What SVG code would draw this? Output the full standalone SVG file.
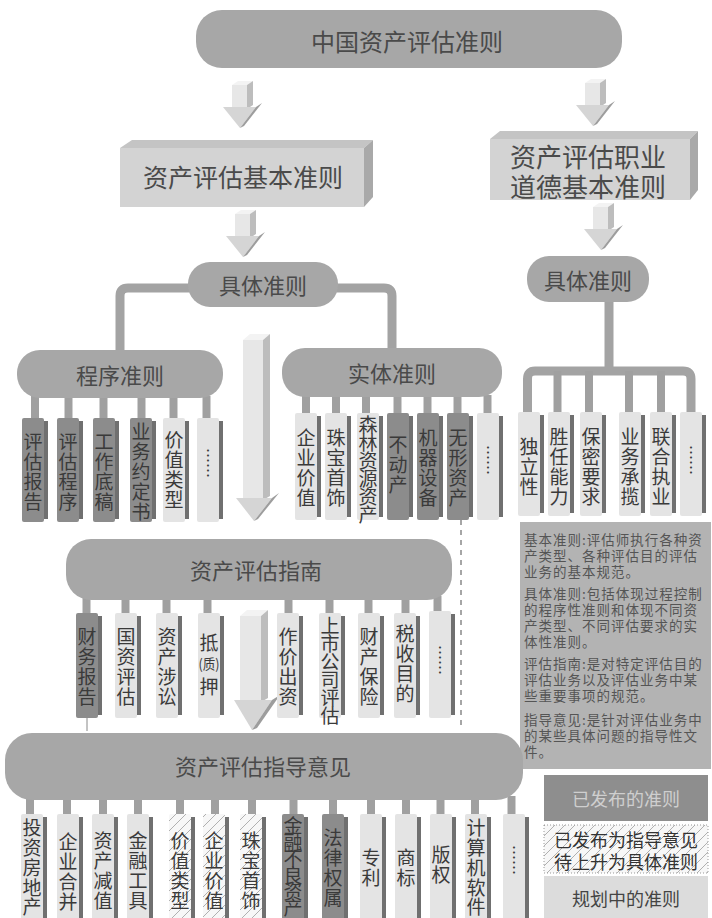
<svg xmlns="http://www.w3.org/2000/svg" xmlns:xlink="http://www.w3.org/1999/xlink" width="712" height="918" viewBox="0 0 712 918">
<style>
.pill{fill:#a7a7a7}
.bar{stroke:#a3a3a3;stroke-width:9;fill:none;stroke-linejoin:round}
.drop{stroke:#a0a0a0;stroke-width:8}
.t{font-family:"Noto Sans CJK SC","Noto Sans CJK JP",sans-serif}
.pt{fill:#4a4a4a;text-anchor:middle;dominant-baseline:central}
.dk{fill:#8c8c8c}
.lt{fill:#e4e4e4}
.ht{fill:url(#hatch)}
.sh{fill:#707070}
.it{font-size:19px;fill:#3a3a3a;text-anchor:middle;dominant-baseline:central}
.dots{font-size:15px;fill:#3a3a3a;text-anchor:middle;writing-mode:vertical-rl}
.ds{font-size:13.5px;fill:#555;letter-spacing:1px}
.af{fill:#e7e7e7}.at{fill:#f3f3f3}.as{fill:#bdbdbd}.ah{fill:#d5d5d5}.ahs{fill:#9d9d9d}
</style>
<defs>
<pattern id="hatch" patternUnits="userSpaceOnUse" width="10" height="10">
<rect width="10" height="10" fill="#f7f7f7"/>
<path d="M-1,1 L1,-1 M0,10 L10,0 M9,11 L11,9" stroke="#a8a8a8" stroke-width="0.9"/>
</pattern>
<g id="arr">
<path class="at" d="M10,4 L16,0 H31 L25,4 Z"/>
<path class="af" d="M10,4 H25 V28 H10 Z"/>
<path class="as" d="M25,4 L31,0 V24 L25,28 Z"/>
<path class="ah" d="M1,26 H34 L18,47 Z"/>
<path class="ahs" d="M34,26 L40,22 L22,45 L18,47 Z"/>
</g>
</defs>
<rect width="712" height="918" fill="#ffffff"/>

<g id="connectors">
<path class="bar" d="M190,288 H128 Q120,288 120,296 V352"/>
<path class="bar" d="M336,288 H384 Q392,288 392,296 V350"/>
<path class="bar" d="M609,300 V371"/>
<path class="bar" d="M527.5,413 V379 Q527.5,371 535,371 H683 Q691,371 691,379 V413"/>
<line class="drop" x1="557.5" y1="371" x2="557.5" y2="413"/>
<line class="drop" x1="589" y1="371" x2="589" y2="413"/>
<line class="drop" x1="629" y1="371" x2="629" y2="413"/>
<line class="drop" x1="661" y1="371" x2="661" y2="413"/>
<line class="drop" x1="35" y1="396" x2="35" y2="420"/>
<line class="drop" x1="68.5" y1="396" x2="68.5" y2="420"/>
<line class="drop" x1="103.5" y1="396" x2="103.5" y2="420"/>
<line class="drop" x1="141.5" y1="396" x2="141.5" y2="420"/>
<line class="drop" x1="173.5" y1="396" x2="173.5" y2="420"/>
<line class="drop" x1="206.5" y1="396" x2="206.5" y2="420"/>
<line class="drop" x1="306" y1="395" x2="306" y2="414"/>
<line class="drop" x1="336" y1="395" x2="336" y2="414"/>
<line class="drop" x1="366" y1="395" x2="366" y2="414"/>
<line class="drop" x1="397.5" y1="395" x2="397.5" y2="414"/>
<line class="drop" x1="427.5" y1="395" x2="427.5" y2="414"/>
<line class="drop" x1="457.5" y1="395" x2="457.5" y2="414"/>
<line class="drop" x1="487.5" y1="395" x2="487.5" y2="414"/>
<line class="drop" x1="86.5" y1="598" x2="86.5" y2="615"/>
<line class="drop" x1="125.5" y1="598" x2="125.5" y2="615"/>
<line class="drop" x1="166.5" y1="598" x2="166.5" y2="615"/>
<line class="drop" x1="207.5" y1="598" x2="207.5" y2="615"/>
<line class="drop" x1="288.5" y1="598" x2="288.5" y2="615"/>
<line class="drop" x1="329.5" y1="598" x2="329.5" y2="615"/>
<line class="drop" x1="368.5" y1="598" x2="368.5" y2="615"/>
<line class="drop" x1="405.5" y1="598" x2="405.5" y2="615"/>
<line class="drop" x1="437.5" y1="596" x2="437.5" y2="615"/>
<line class="drop" x1="30" y1="798" x2="30" y2="816"/>
<line class="drop" x1="67" y1="798" x2="67" y2="816"/>
<line class="drop" x1="103" y1="798" x2="103" y2="816"/>
<line class="drop" x1="138" y1="798" x2="138" y2="816"/>
<line class="drop" x1="180" y1="798" x2="180" y2="816"/>
<line class="drop" x1="215" y1="798" x2="215" y2="816"/>
<line class="drop" x1="252" y1="798" x2="252" y2="816"/>
<line class="drop" x1="293.5" y1="798" x2="293.5" y2="816"/>
<line class="drop" x1="333" y1="798" x2="333" y2="816"/>
<line class="drop" x1="371" y1="798" x2="371" y2="816"/>
<line class="drop" x1="406" y1="798" x2="406" y2="816"/>
<line class="drop" x1="440.5" y1="798" x2="440.5" y2="816"/>
<line class="drop" x1="475" y1="798" x2="475" y2="816"/>
<line class="drop" x1="511.5" y1="796" x2="511.5" y2="816"/>
<line x1="461" y1="520" x2="461" y2="730" stroke="#777" stroke-width="1.3" stroke-dasharray="5,5"/>
<line x1="87" y1="718" x2="87" y2="731" stroke="#888" stroke-width="1"/>
<use xlink:href="#arr" x="222" y="81"/>
<use xlink:href="#arr" x="575" y="79"/>
<use xlink:href="#arr" x="225" y="210"/>
<use xlink:href="#arr" x="583" y="203"/>
<g id="arrow-big">
<path class="at" d="M243,340 L250,334 H270 L263,340 Z"/>
<path class="af" d="M243,340 H263 V500 H243 Z"/>
<path class="as" d="M263,340 L270,334 V496 L263,500 Z"/>
<path class="ah" d="M236,498 H272 L254,521 Z"/>
<path class="ahs" d="M272,498 L279,493 L258,519 L254,521 Z"/>
</g>
<g id="arrow-guide">
<path class="at" d="M240,616 L247,610 H268 L261,616 Z"/>
<path class="af" d="M240,616 H261 V702 H240 Z"/>
<path class="as" d="M261,616 L268,610 V698 L261,702 Z"/>
<path class="ah" d="M234,700 H272 L252,730 Z"/>
<path class="ahs" d="M272,700 L280,695 L257,728 L252,730 Z"/>
</g>
</g>

<g id="n-root">
<rect class="pill" x="196" y="10" width="426" height="58" rx="26"/>
<text class="t pt" x="407" y="40" font-size="24">中国资产评估准则</text>
</g>

<g id="n-basic">
<path d="M120,148 L132,140 H373 L364,148 Z" fill="#c4c4c4"/>
<path d="M120,148 H364 V207 H120 Z" fill="#d3d3d3"/>
<path d="M364,148 L373,140 V197 L364,207 Z" fill="#a9a9a9"/>
<text class="t pt" x="243" y="176" font-size="25">资产评估基本准则</text>
</g>

<g id="n-ethics">
<path d="M490,139 L500,131 H698 L690,139 Z" fill="#c4c4c4"/>
<path d="M490,139 H690 V200 H490 Z" fill="#d3d3d3"/>
<path d="M690,139 L698,131 V190 L690,200 Z" fill="#a9a9a9"/>
<text class="t pt" x="588" y="155" font-size="26">资产评估职业</text>
<text class="t pt" x="588" y="185" font-size="26">道德基本准则</text>
</g>

<g id="n-specific-left">
<rect class="pill" x="188" y="262" width="150" height="45" rx="22"/>
<text class="t pt" x="263" y="284" font-size="22">具体准则</text>
</g>

<g id="n-specific-right">
<rect class="pill" x="527" y="256" width="122" height="46" rx="22"/>
<text class="t pt" x="588" y="279" font-size="22">具体准则</text>
</g>

<g id="n-procedure">
<rect class="pill" x="17" y="350" width="206" height="48" rx="23"/>
<text class="t pt" x="120" y="374" font-size="22">程序准则</text>
</g>

<g id="n-entity">
<rect class="pill" x="282" y="348" width="220" height="49" rx="23"/>
<text class="t pt" x="392" y="372" font-size="22">实体准则</text>
</g>

<g id="p1"><rect class="dk" x="22" y="418" width="22" height="104" rx="2"/><rect class="sh" x="44" y="421" width="4" height="98"/>
<text class="t it"><tspan x="33" y="440">评</tspan><tspan x="33" y="460">估</tspan><tspan x="33" y="480">报</tspan><tspan x="33" y="500">告</tspan></text></g>
<g id="p2"><rect class="dk" x="57" y="418" width="22" height="104" rx="2"/><rect class="sh" x="79" y="421" width="4" height="98"/>
<text class="t it"><tspan x="68" y="440">评</tspan><tspan x="68" y="460">估</tspan><tspan x="68" y="480">程</tspan><tspan x="68" y="500">序</tspan></text></g>
<g id="p3"><rect class="dk" x="93" y="418" width="22" height="104" rx="2"/><rect class="sh" x="115" y="421" width="4" height="98"/>
<text class="t it"><tspan x="104" y="440">工</tspan><tspan x="104" y="460">作</tspan><tspan x="104" y="480">底</tspan><tspan x="104" y="500">稿</tspan></text></g>
<g id="p4"><rect class="dk" x="130" y="418" width="22" height="104" rx="2"/><rect class="sh" x="152" y="421" width="4" height="98"/>
<text class="t it"><tspan x="141" y="430">业</tspan><tspan x="141" y="450">务</tspan><tspan x="141" y="470">约</tspan><tspan x="141" y="490">定</tspan><tspan x="141" y="510">书</tspan></text></g>
<g id="p5"><rect class="lt" x="163" y="418" width="22" height="104" rx="2"/><rect class="sh" x="185" y="421" width="4" height="98"/>
<text class="t it"><tspan x="174" y="438">价</tspan><tspan x="174" y="458">值</tspan><tspan x="174" y="478">类</tspan><tspan x="174" y="498">型</tspan></text></g>
<g id="p6"><rect class="lt" x="197" y="418" width="22" height="104" rx="2"/><rect class="sh" x="219" y="421" width="4" height="98"/>
<text class="t dots" x="208" y="463">……</text></g>

<g id="e1"><rect class="lt" x="295" y="413" width="22" height="107" rx="2"/><rect class="sh" x="317" y="416" width="4" height="101"/>
<text class="t it"><tspan x="306" y="436">企</tspan><tspan x="306" y="456">业</tspan><tspan x="306" y="476">价</tspan><tspan x="306" y="496">值</tspan></text></g>
<g id="e2"><rect class="lt" x="325" y="413" width="22" height="107" rx="2"/><rect class="sh" x="347" y="416" width="4" height="101"/>
<text class="t it"><tspan x="336" y="436">珠</tspan><tspan x="336" y="456">宝</tspan><tspan x="336" y="476">首</tspan><tspan x="336" y="496">饰</tspan></text></g>
<g id="e3"><rect class="lt" x="357" y="413" width="22" height="107" rx="2"/><rect class="sh" x="379" y="416" width="4" height="101"/>
<text class="t it" font-size="17.5"><tspan x="368" y="423">森</tspan><tspan x="368" y="441">林</tspan><tspan x="368" y="459">资</tspan><tspan x="368" y="477">源</tspan><tspan x="368" y="495">资</tspan><tspan x="368" y="513">产</tspan></text></g>
<g id="e4"><rect class="dk" x="387" y="413" width="22" height="107" rx="2"/><rect class="sh" x="409" y="416" width="4" height="101"/>
<text class="t it"><tspan x="398" y="443">不</tspan><tspan x="398" y="463">动</tspan><tspan x="398" y="483">产</tspan></text></g>
<g id="e5"><rect class="dk" x="417" y="413" width="22" height="107" rx="2"/><rect class="sh" x="439" y="416" width="4" height="101"/>
<text class="t it"><tspan x="428" y="436">机</tspan><tspan x="428" y="456">器</tspan><tspan x="428" y="476">设</tspan><tspan x="428" y="496">备</tspan></text></g>
<g id="e6"><rect class="dk" x="447" y="413" width="22" height="107" rx="2"/><rect class="sh" x="469" y="416" width="4" height="101"/>
<text class="t it"><tspan x="458" y="436">无</tspan><tspan x="458" y="456">形</tspan><tspan x="458" y="476">资</tspan><tspan x="458" y="496">产</tspan></text></g>
<g id="e7"><rect class="lt" x="477" y="413" width="22" height="107" rx="2"/><rect class="sh" x="499" y="416" width="4" height="101"/>
<text class="t dots" x="488" y="460">……</text></g>

<g id="r1"><rect class="lt" x="518" y="412" width="22" height="104" rx="2"/><rect class="sh" x="540" y="415" width="4" height="98"/>
<text class="t it"><tspan x="529" y="445">独</tspan><tspan x="529" y="465">立</tspan><tspan x="529" y="485">性</tspan></text></g>
<g id="r2"><rect class="lt" x="548" y="412" width="22" height="104" rx="2"/><rect class="sh" x="570" y="415" width="4" height="98"/>
<text class="t it"><tspan x="559" y="435">胜</tspan><tspan x="559" y="455">任</tspan><tspan x="559" y="475">能</tspan><tspan x="559" y="495">力</tspan></text></g>
<g id="r3"><rect class="lt" x="580" y="412" width="22" height="104" rx="2"/><rect class="sh" x="602" y="415" width="4" height="98"/>
<text class="t it"><tspan x="591" y="435">保</tspan><tspan x="591" y="455">密</tspan><tspan x="591" y="475">要</tspan><tspan x="591" y="495">求</tspan></text></g>
<g id="r4"><rect class="lt" x="619" y="412" width="22" height="104" rx="2"/><rect class="sh" x="641" y="415" width="4" height="98"/>
<text class="t it"><tspan x="630" y="435">业</tspan><tspan x="630" y="455">务</tspan><tspan x="630" y="475">承</tspan><tspan x="630" y="495">揽</tspan></text></g>
<g id="r5"><rect class="lt" x="650" y="412" width="22" height="104" rx="2"/><rect class="sh" x="672" y="415" width="4" height="98"/>
<text class="t it"><tspan x="661" y="435">联</tspan><tspan x="661" y="455">合</tspan><tspan x="661" y="475">执</tspan><tspan x="661" y="495">业</tspan></text></g>
<g id="r6"><rect class="lt" x="680" y="412" width="22" height="104" rx="2"/><rect class="sh" x="702" y="415" width="4" height="98"/>
<text class="t dots" x="691" y="460">……</text></g>

<g id="n-desc">
<rect x="520" y="522" width="191" height="247" fill="#b3b3b3"/>
<text class="t ds"><tspan x="524" y="545">基本准则:评估师执行各种资</tspan><tspan x="524" y="561">产类型、各种评估目的评估</tspan><tspan x="524" y="577">业务的基本规范。</tspan><tspan x="524" y="599">具体准则:包括体现过程控制</tspan><tspan x="524" y="615">的程序性准则和体现不同资</tspan><tspan x="524" y="631">产类型、不同评估要求的实</tspan><tspan x="524" y="647">体性准则。</tspan><tspan x="524" y="669">评估指南:是对特定评估目的</tspan><tspan x="524" y="685">评估业务以及评估业务中某</tspan><tspan x="524" y="701">些重要事项的规范。</tspan><tspan x="524" y="725">指导意见:是针对评估业务中</tspan><tspan x="524" y="741">的某些具体问题的指导性文</tspan><tspan x="524" y="757">件。</tspan></text>
</g>

<g id="n-guide">
<rect class="pill" x="66" y="539" width="386" height="61" rx="25"/>
<text class="t pt" x="256" y="569" font-size="22">资产评估指南</text>
</g>
<g id="g1"><rect class="dk" x="76" y="613" width="22" height="105" rx="2"/><rect class="sh" x="98" y="616" width="4" height="99"/>
<text class="t it"><tspan x="87" y="635">财</tspan><tspan x="87" y="655">务</tspan><tspan x="87" y="675">报</tspan><tspan x="87" y="695">告</tspan></text></g>
<g id="g2"><rect class="lt" x="115" y="613" width="22" height="105" rx="2"/><rect class="sh" x="137" y="616" width="4" height="99"/>
<text class="t it"><tspan x="126" y="635">国</tspan><tspan x="126" y="655">资</tspan><tspan x="126" y="675">评</tspan><tspan x="126" y="695">估</tspan></text></g>
<g id="g3"><rect class="lt" x="156" y="613" width="22" height="105" rx="2"/><rect class="sh" x="178" y="616" width="4" height="99"/>
<text class="t it"><tspan x="167" y="635">资</tspan><tspan x="167" y="655">产</tspan><tspan x="167" y="675">涉</tspan><tspan x="167" y="695">讼</tspan></text></g>
<g id="g4"><rect class="lt" x="198" y="613" width="22" height="105" rx="2"/><rect class="sh" x="220" y="616" width="4" height="99"/>
<text class="t it"><tspan x="209" y="641">抵</tspan><tspan x="209" y="663" font-size="14" textLength="21" lengthAdjust="spacingAndGlyphs">(质)</tspan><tspan x="209" y="685">押</tspan></text></g>
<g id="g5"><rect class="lt" x="277" y="613" width="22" height="105" rx="2"/><rect class="sh" x="299" y="616" width="4" height="99"/>
<text class="t it"><tspan x="288" y="635">作</tspan><tspan x="288" y="655">价</tspan><tspan x="288" y="675">出</tspan><tspan x="288" y="695">资</tspan></text></g>
<g id="g6"><rect class="lt" x="319" y="613" width="22" height="105" rx="2"/><rect class="sh" x="341" y="616" width="4" height="99"/>
<text class="t it" font-size="17.5"><tspan x="330" y="624">上</tspan><tspan x="330" y="642">市</tspan><tspan x="330" y="660">公</tspan><tspan x="330" y="678">司</tspan><tspan x="330" y="696">评</tspan><tspan x="330" y="714">估</tspan></text></g>
<g id="g7"><rect class="lt" x="358" y="613" width="22" height="105" rx="2"/><rect class="sh" x="380" y="616" width="4" height="99"/>
<text class="t it"><tspan x="369" y="635">财</tspan><tspan x="369" y="655">产</tspan><tspan x="369" y="675">保</tspan><tspan x="369" y="695">险</tspan></text></g>
<g id="g8"><rect class="lt" x="394" y="613" width="22" height="105" rx="2"/><rect class="sh" x="416" y="616" width="4" height="99"/>
<text class="t it"><tspan x="405" y="632">税</tspan><tspan x="405" y="652">收</tspan><tspan x="405" y="672">目</tspan><tspan x="405" y="692">的</tspan></text></g>
<g id="g9"><rect class="lt" x="429" y="611" width="22" height="107" rx="2"/><rect class="sh" x="451" y="614" width="4" height="101"/>
<text class="t dots" x="440" y="660">……</text></g>

<g id="n-opinion">
<rect class="pill" x="5" y="733" width="518" height="67" rx="27"/>
<text class="t pt" x="263" y="765" font-size="22">资产评估指导意见</text>
</g>
<g id="o1"><rect class="lt" x="21" y="814" width="22" height="106" rx="2"/><rect class="sh" x="43" y="817" width="4" height="101"/>
<text class="t it"><tspan x="32" y="826">投</tspan><tspan x="32" y="846">资</tspan><tspan x="32" y="866">房</tspan><tspan x="32" y="886">地</tspan><tspan x="32" y="905">产</tspan></text></g>
<g id="o2"><rect class="lt" x="57" y="814" width="22" height="106" rx="2"/><rect class="sh" x="79" y="817" width="4" height="101"/>
<text class="t it"><tspan x="68" y="840">企</tspan><tspan x="68" y="860">业</tspan><tspan x="68" y="880">合</tspan><tspan x="68" y="900">并</tspan></text></g>
<g id="o3"><rect class="lt" x="92" y="814" width="22" height="106" rx="2"/><rect class="sh" x="114" y="817" width="4" height="101"/>
<text class="t it"><tspan x="103" y="839">资</tspan><tspan x="103" y="859">产</tspan><tspan x="103" y="879">减</tspan><tspan x="103" y="899">值</tspan></text></g>
<g id="o4"><rect class="lt" x="127" y="814" width="22" height="106" rx="2"/><rect class="sh" x="149" y="817" width="4" height="101"/>
<text class="t it"><tspan x="138" y="839">金</tspan><tspan x="138" y="859">融</tspan><tspan x="138" y="879">工</tspan><tspan x="138" y="899">具</tspan></text></g>
<g id="o5"><rect class="ht" x="169" y="814" width="22" height="106" rx="2"/><rect class="sh" x="191" y="817" width="4" height="101"/>
<text class="t it"><tspan x="180" y="839">价</tspan><tspan x="180" y="859">值</tspan><tspan x="180" y="879">类</tspan><tspan x="180" y="899">型</tspan></text></g>
<g id="o6"><rect class="ht" x="203" y="814" width="22" height="106" rx="2"/><rect class="sh" x="225" y="817" width="4" height="101"/>
<text class="t it"><tspan x="214" y="839">企</tspan><tspan x="214" y="859">业</tspan><tspan x="214" y="879">价</tspan><tspan x="214" y="899">值</tspan></text></g>
<g id="o7"><rect class="ht" x="240" y="814" width="22" height="106" rx="2"/><rect class="sh" x="262" y="817" width="4" height="101"/>
<text class="t it"><tspan x="251" y="839">珠</tspan><tspan x="251" y="859">宝</tspan><tspan x="251" y="879">首</tspan><tspan x="251" y="899">饰</tspan></text></g>
<g id="o8"><rect class="dk" x="282" y="814" width="22" height="106" rx="2"/><rect class="sh" x="304" y="817" width="4" height="101"/>
<text class="t it" font-size="16.5"><tspan x="293" y="824">金</tspan><tspan x="293" y="840.5">融</tspan><tspan x="293" y="857">不</tspan><tspan x="293" y="873.5">良</tspan><tspan x="293" y="890">资</tspan><tspan x="293" y="906">产</tspan></text></g>
<g id="o9"><rect class="dk" x="322" y="814" width="22" height="106" rx="2"/><rect class="sh" x="344" y="817" width="4" height="101"/>
<text class="t it"><tspan x="333" y="836">法</tspan><tspan x="333" y="856">律</tspan><tspan x="333" y="876">权</tspan><tspan x="333" y="896">属</tspan></text></g>
<g id="o10"><rect class="lt" x="360" y="814" width="22" height="106" rx="2"/><rect class="sh" x="382" y="817" width="4" height="101"/>
<text class="t it"><tspan x="371" y="856">专</tspan><tspan x="371" y="876">利</tspan></text></g>
<g id="o11"><rect class="lt" x="395" y="814" width="22" height="106" rx="2"/><rect class="sh" x="417" y="817" width="4" height="101"/>
<text class="t it"><tspan x="406" y="856">商</tspan><tspan x="406" y="876">标</tspan></text></g>
<g id="o12"><rect class="lt" x="430" y="814" width="22" height="106" rx="2"/><rect class="sh" x="452" y="817" width="4" height="101"/>
<text class="t it"><tspan x="441" y="853">版</tspan><tspan x="441" y="873">权</tspan></text></g>
<g id="o13"><rect class="lt" x="465" y="814" width="22" height="106" rx="2"/><rect class="sh" x="487" y="817" width="4" height="101"/>
<text class="t it"><tspan x="476" y="826">计</tspan><tspan x="476" y="846">算</tspan><tspan x="476" y="866">机</tspan><tspan x="476" y="886">软</tspan><tspan x="476" y="905">件</tspan></text></g>
<g id="o14"><rect class="lt" x="503" y="814" width="22" height="106" rx="2"/><rect class="sh" x="525" y="817" width="4" height="101"/>
<text class="t dots" x="514" y="860">……</text></g>

<g id="legend-published">
<rect x="544" y="775" width="164" height="46" fill="#8e8e8e"/>
<text class="t pt" x="626" y="798" font-size="18" style="fill:#cfcfcf">已发布的准则</text>
</g>
<g id="legend-pending">
<rect x="544" y="825" width="164" height="48" fill="url(#hatch)" stroke="#999" stroke-width="1" stroke-dasharray="1,2"/>
<text class="t pt" x="626" y="839" font-size="18" style="fill:#333">已发布为指导意见</text>
<text class="t pt" x="626" y="861" font-size="18" style="fill:#333">待上升为具体准则</text>
</g>
<g id="legend-planned">
<rect x="544" y="876" width="164" height="42" fill="#dcdcdc"/>
<text class="t pt" x="626" y="898" font-size="18" style="fill:#444">规划中的准则</text>
</g>
</svg>
